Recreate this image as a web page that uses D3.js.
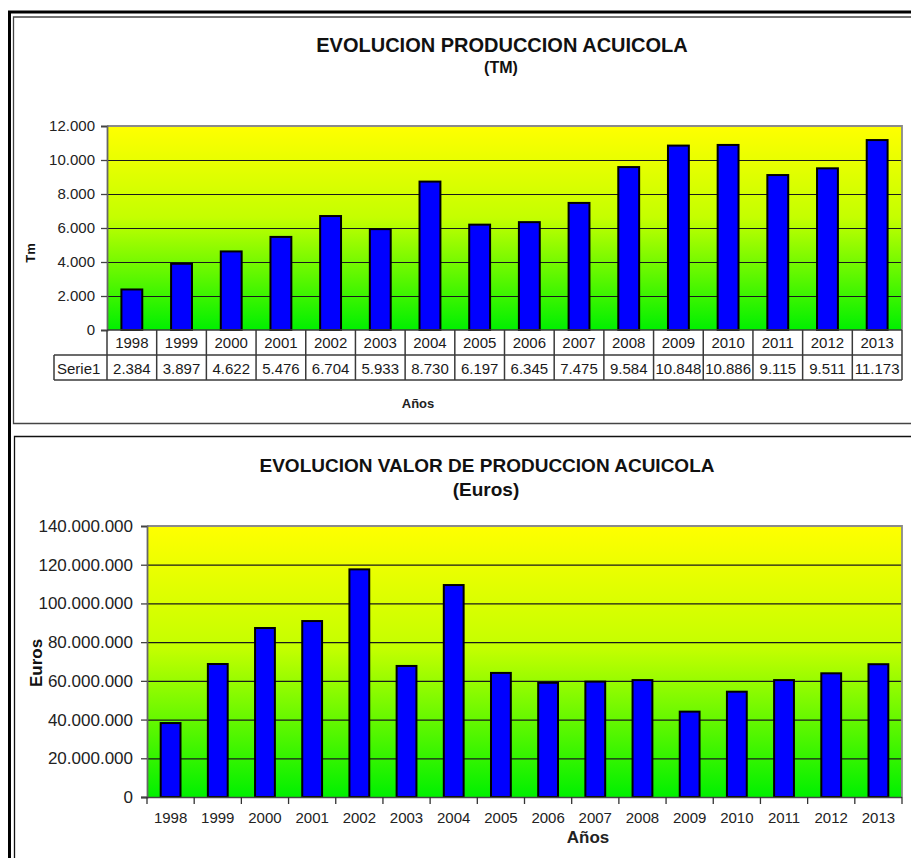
<!DOCTYPE html>
<html><head><meta charset="utf-8">
<script src="https://cdn.jsdelivr.net/npm/d3@7"></script>
<style>
html,body{margin:0;padding:0;background:#fff;}
svg{display:block;font-family:"Liberation Sans",Arial,sans-serif;}
</style></head>
<body>
<svg id="c" width="911" height="858"></svg>
<script>
const years = ["1998","1999","2000","2001","2002","2003","2004","2005","2006","2007","2008","2009","2010","2011","2012","2013"];
const tmValues = [2384,3897,4622,5476,6704,5933,8730,6197,6345,7475,9584,10848,10886,9115,9511,11173];
const euroValues = [38200000,68700000,87300000,90900000,117600000,67700000,109500000,64100000,59000000,59600000,60400000,44100000,54400000,60400000,63900000,68600000];
const tmTicks = [0,2000,4000,6000,8000,10000,12000];
const euroTicks = [0,20000000,40000000,60000000,80000000,100000000,120000000,140000000];
const seriesName = "Serie1";

const es = d3.formatLocale({decimal:",",thousands:".",grouping:[3],currency:["","€"]});
const fmt = es.format(",d");

const svg = d3.select("#c");
const defs = svg.append("defs");
const grad = defs.append("linearGradient").attr("id","bg").attr("x1",0).attr("y1",0).attr("x2",0).attr("y2",1);
grad.append("stop").attr("offset","0%").attr("stop-color","#ffff00");
grad.append("stop").attr("offset","45%").attr("stop-color","#c4ff00");
grad.append("stop").attr("offset","100%").attr("stop-color","#00f000");

// frames
svg.append("path").attr("d","M9.5,858 V12 H911").attr("fill","none").attr("stroke","#000").attr("stroke-width",3);
svg.append("path").attr("d","M911,17 H13.5 V423.5 H911").attr("fill","none").attr("stroke","#444").attr("stroke-width",1.3);
svg.append("path").attr("d","M911,436.5 H14.5 V858").attr("fill","none").attr("stroke","#111").attr("stroke-width",1.3);

function drawChart(o){
  const g = svg.append("g");
  const x = d3.scaleBand().domain(years).range([o.left,o.right]).padding(0);
  const y = d3.scaleLinear().domain([0,o.max]).range([o.bottom,o.top]);
  g.append("rect").attr("x",o.left).attr("y",o.top).attr("width",o.right-o.left).attr("height",o.bottom-o.top).attr("fill","url(#bg)");
  const grid = g.append("g").attr("transform",`translate(${o.left},0)`)
    .call(d3.axisLeft(y).tickValues(o.ticks.filter(t=>t>0 && t<o.max)).tickSize(-(o.right-o.left)).tickFormat(""));
  grid.select(".domain").remove();
  grid.selectAll("line").attr("stroke","#1a1a1a").attr("stroke-width",1.2);
  g.append("path").attr("d",`M${o.left},${o.top} H${o.right} V${o.bottom}`).attr("fill","none").attr("stroke","#8a8a8a").attr("stroke-width",1.8);
  const bw = x.step()*0.42;
  g.selectAll("rect.bar").data(years).join("rect").attr("class","bar")
    .attr("x",d=>x(d)+(x.step()-bw)/2)
    .attr("y",(d,i)=>y(o.values[i]))
    .attr("width",bw)
    .attr("height",(d,i)=>y(0)-y(o.values[i]))
    .attr("fill","#0000ff").attr("stroke","#000").attr("stroke-width",2);
  const ya = g.append("g").attr("transform",`translate(${o.left},0)`)
    .call(d3.axisLeft(y).tickValues(o.ticks).tickSize(6).tickPadding(o.tickPad).tickFormat(fmt));
  ya.select(".domain").attr("stroke","#666").attr("stroke-width",1.8);
  ya.selectAll("line").attr("stroke","#444").attr("stroke-width",1.3);
  ya.selectAll("text").attr("font-size",o.tickFont).attr("fill","#222").attr("font-family","'Liberation Sans',Arial,sans-serif");
  return {x,y,g};
}

// ---- Top chart
const chartTm = drawChart({left:107,right:902,top:126,bottom:330,max:12000,values:tmValues,ticks:tmTicks,tickPad:6,tickFont:"15px"});
svg.append("text").attr("x",502).attr("y",52).attr("text-anchor","middle").attr("font-size",20).attr("font-weight","bold").attr("fill","#111").text("EVOLUCION PRODUCCION ACUICOLA");
svg.append("text").attr("x",501).attr("y",73).attr("text-anchor","middle").attr("font-size",16).attr("font-weight","bold").attr("fill","#111").text("(TM)");
svg.append("text").attr("transform","translate(35,253) rotate(-90)").attr("text-anchor","middle").attr("font-size",13).attr("font-weight","bold").attr("fill","#111").text("Tm");
svg.append("text").attr("x",418).attr("y",408).attr("text-anchor","middle").attr("font-size",13).attr("font-weight","bold").attr("fill","#222").text("Años");

// data table
const tx = chartTm.x, step = tx.step();
const r0 = 330, r1 = 355, r2 = 380, tableLeft = 54;
const tg = svg.append("g").attr("stroke","#3a3a3a").attr("stroke-width",1.5).attr("fill","none");
tg.append("line").attr("x1",107).attr("x2",902).attr("y1",r0).attr("y2",r0);
tg.append("line").attr("x1",tableLeft).attr("x2",902).attr("y1",r1).attr("y2",r1);
tg.append("line").attr("x1",tableLeft).attr("x2",902).attr("y1",r2).attr("y2",r2);
tg.append("line").attr("x1",tableLeft).attr("x2",tableLeft).attr("y1",r1).attr("y2",r2);
tg.selectAll("line.v").data(years.concat(["end"])).join("line").attr("class","v")
  .attr("x1",d=>d==="end"?902:tx(d)).attr("x2",d=>d==="end"?902:tx(d)).attr("y1",r0).attr("y2",r2);
const tt = svg.append("g").attr("font-size",15).attr("fill","#1a1a1a");
tt.selectAll("text.yr").data(years).join("text").attr("class","yr")
  .attr("x",d=>tx(d)+step/2).attr("y",348).attr("text-anchor","middle").text(d=>d);
tt.selectAll("text.val").data(tmValues).join("text").attr("class","val")
  .attr("x",(d,i)=>tx(years[i])+step/2).attr("y",374).attr("text-anchor","middle").text(d=>fmt(d));
tt.append("text").attr("x",57).attr("y",374).text(seriesName);

// ---- Bottom chart
const chartEur = drawChart({left:147,right:902,top:526,bottom:797,max:140000000,values:euroValues,ticks:euroTicks,tickPad:8,tickFont:"17px"});
const bx = chartEur.x;
const xa = svg.append("g").attr("transform","translate(0,797)")
  .call(d3.axisBottom(bx).tickSize(0).tickPadding(15));
xa.select(".domain").attr("stroke","#444").attr("stroke-width",1.5).attr("d","M141,0.5H902");
xa.selectAll("text").attr("font-size",15).attr("fill","#222").attr("font-family","'Liberation Sans',Arial,sans-serif");
svg.append("g").selectAll("line").data(years.concat(["end"])).join("line")
  .attr("x1",d=>d==="end"?902:bx(d)).attr("x2",d=>d==="end"?902:bx(d))
  .attr("y1",797).attr("y2",804).attr("stroke","#333").attr("stroke-width",1.3);
svg.append("text").attr("x",487).attr("y",472).attr("text-anchor","middle").attr("font-size",19).attr("font-weight","bold").attr("fill","#111").text("EVOLUCION VALOR DE PRODUCCION ACUICOLA");
svg.append("text").attr("x",486).attr("y",496).attr("text-anchor","middle").attr("font-size",19).attr("font-weight","bold").attr("fill","#111").text("(Euros)");
svg.append("text").attr("transform","translate(42,663) rotate(-90)").attr("text-anchor","middle").attr("font-size",17).attr("font-weight","bold").attr("fill","#111").text("Euros");
svg.append("text").attr("x",588).attr("y",843).attr("text-anchor","middle").attr("font-size",17).attr("font-weight","bold").attr("fill","#222").text("Años");
</script>
</body></html>
